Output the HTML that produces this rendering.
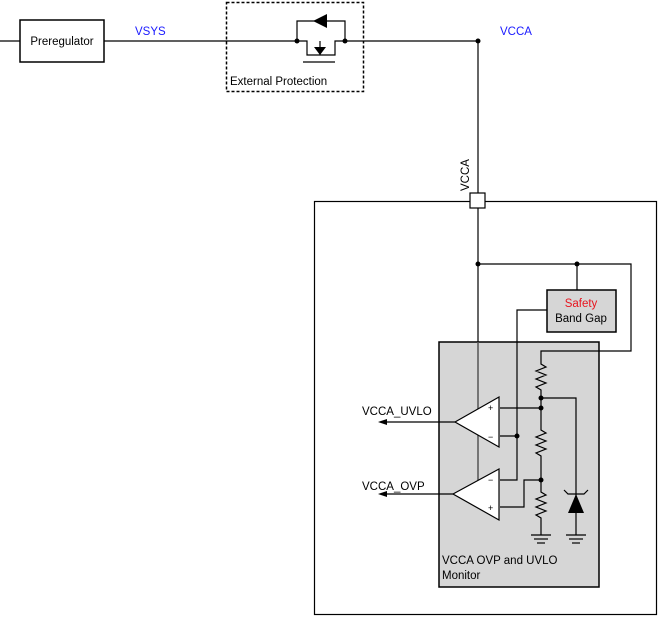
<!DOCTYPE html>
<html><head><style>
html,body{margin:0;padding:0;background:#fff;}
svg{display:block;font-family:"Liberation Sans",Arial,sans-serif;}
</style></head><body>
<svg width="659" height="617" viewBox="0 0 659 617" xmlns="http://www.w3.org/2000/svg">
<g fill="none" stroke="#000" stroke-width="1.2">
<line x1="0" y1="41" x2="20" y2="41"/>
<line x1="104" y1="41" x2="297" y2="41"/>
<line x1="345" y1="41" x2="478" y2="41"/>
<rect x="20" y="20" width="84" height="42" stroke-width="1.5"/>
<rect x="226.5" y="2.5" width="137" height="89" stroke-dasharray="3,2" stroke-width="1.5"/>
<polyline points="297,41 297,21 345,21 345,41"/>
<polyline points="297,41 307,41 307,55 335,55 335,41 345,41"/>
<line x1="303" y1="62" x2="335" y2="62"/>
<line x1="320" y1="41" x2="320" y2="55"/>
<line x1="478" y1="41" x2="478" y2="193"/>
<rect x="314.5" y="201.5" width="342" height="413"/>
<line x1="478" y1="208" x2="478" y2="480"/>
<line x1="577" y1="264" x2="577" y2="290"/>
</g>
<rect x="439" y="342" width="160" height="245" fill="#d6d6d6" stroke="#000" stroke-width="1.5"/>
<rect x="547" y="290" width="69" height="42" fill="#d6d6d6" stroke="#000" stroke-width="1.5"/>
<g fill="none" stroke="#000" stroke-width="1.2">
<polyline points="478,264 631,264 631,351 541,351 541,362"/>
<line x1="478" y1="342" x2="478" y2="480" stroke="#555" stroke-width="1.5"/>
<polyline points="547,310 517,310 517,480 500,480"/>
<line x1="517" y1="436" x2="500" y2="436"/>
<polyline points="541,362 541,364 546,367 536,371 546,375 536,379 546,383 536,387 541,390 541,430 546,433 536,437 546,441 536,445 546,449 536,453 541,456 541,492 546,495 536,499 546,503 536,507 546,511 536,515 541,518 541,535"/>
<line x1="500" y1="408" x2="541" y2="408"/>
<polyline points="541,398 576,398 576,535"/>
<polyline points="541,480 524,480 524,507 500,507"/>
<line x1="531" y1="535" x2="551" y2="535"/><line x1="534" y1="539" x2="548" y2="539"/><line x1="537" y1="543" x2="545" y2="543"/>
<line x1="566" y1="535" x2="586" y2="535"/><line x1="569" y1="539" x2="583" y2="539"/><line x1="572" y1="543" x2="580" y2="543"/>
<polyline points="564,490 568,494 584,494 588,490"/>
<line x1="385" y1="422" x2="455" y2="422"/>
<line x1="385" y1="494" x2="453" y2="494"/>
</g>
<polygon points="568,513 584,513 576,494" fill="#000"/>
<polygon points="378,422 387,419 387,425" fill="#000"/>
<polygon points="378,494 387,491 387,497" fill="#000"/>
<polygon points="313,21 327,14 327,28" fill="#000"/>
<polygon points="314,47 326,47 320,55" fill="#000"/>
<polygon points="455,422 499,397 499,447" fill="#fff" stroke="#000" stroke-width="1.2"/>
<polygon points="453,494 499,469 499,520" fill="#fff" stroke="#000" stroke-width="1.2"/>
<rect x="470" y="193" width="15" height="15" fill="#fff" stroke="#000" stroke-width="1.2"/>
<g fill="#000">
<circle cx="297" cy="41" r="2.5"/><circle cx="345" cy="41" r="2.5"/><circle cx="478" cy="41" r="2.5"/>
<circle cx="478" cy="264" r="2.5"/><circle cx="577" cy="264" r="2.5"/>
<circle cx="541" cy="398" r="2.5"/><circle cx="541" cy="408" r="2.5"/><circle cx="517" cy="436" r="2.5"/><circle cx="541" cy="480" r="2.5"/>
</g>
<g font-size="11.5" fill="#000">
<text x="62" y="45" text-anchor="middle">Preregulator</text>
<text x="135" y="35" fill="#1a1aff">VSYS</text>
<text x="500" y="35" fill="#1a1aff">VCCA</text>
<text x="230" y="85">External Protection</text>
<text transform="translate(469,191) rotate(-90)">VCCA</text>
<text x="581" y="307" text-anchor="middle" fill="#e8141e">Safety</text>
<text x="581" y="322" text-anchor="middle">Band Gap</text>
<text x="362" y="415">VCCA_UVLO</text>
<text x="362" y="490">VCCA_OVP</text>
<text x="442" y="564">VCCA OVP and UVLO</text>
<text x="442" y="579">Monitor</text>
<text x="488" y="411" font-size="9">+</text>
<text x="488" y="440" font-size="9">−</text>
<text x="488" y="483" font-size="9">−</text>
<text x="488" y="511" font-size="9">+</text>
</g>
</svg>
</body></html>
